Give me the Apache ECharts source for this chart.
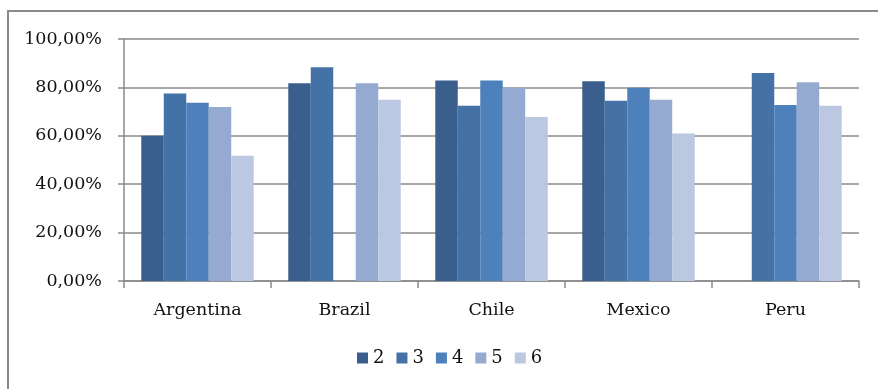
<!DOCTYPE html>
<html>
<head>
<meta charset="utf-8">
<script src="https://cdn.jsdelivr.net/npm/echarts@6/dist/echarts.min.js"></script>
<style>
  html, body { margin: 0; padding: 0; background: #fff; }
  #chart { width: 878px; height: 389px; }
</style>
</head>
<body>
<div id="chart"></div>
<script>
// Countries on the category axis
const categories = ['Argentina', 'Brazil', 'Chile', 'Mexico', 'Peru'];

// Share per group (percent); null where a group has no value
const group2 = [60.0, 81.7, 82.9, 82.5, null];
const group3 = [77.5, 88.3, 72.4, 74.5, 86.0];
const group4 = [73.7, null, 82.9, 79.9, 72.7];
const group5 = [71.9, 81.7, 79.9, 74.9, 82.1];
const group6 = [51.8, 74.9, 67.8, 61.0, 72.4];

const seriesNames = ['2', '3', '4', '5', '6'];
const seriesValues = [group2, group3, group4, group5, group6];
const seriesColors = ['#3b5f8d', '#4472a6', '#4e80bc', '#95aad0', '#bcc8e1'];

// Y-axis ticks: 0 .. 100 in steps of 20
const yMin = 0, yMax = 100, yStep = 20;

const FONT = '"DejaVu Serif", "Liberation Serif", serif';
const GRAY = '#8a8a8a';
const TEXT = '#111';

const chart = echarts.init(document.getElementById('chart'), null, { renderer: 'canvas' });

chart.setOption({
  animation: false,
  backgroundColor: '#ffffff',
  graphic: [{
    type: 'rect',
    shape: { x: 8, y: 11, width: 900, height: 420 },
    style: { fill: 'none', stroke: GRAY, lineWidth: 2 },
    silent: true,
    z: -1
  }],
  grid: { left: 124, right: 19, top: 39, bottom: 108, containLabel: false },
  legend: {
    data: seriesNames,
    top: 344,
    left: 352,
    icon: 'rect',
    itemWidth: 11,
    itemHeight: 11,
    itemGap: 12,
    textStyle: { fontFamily: FONT, fontSize: 18, color: TEXT }
  },
  xAxis: {
    type: 'category',
    data: categories,
    axisLine: { show: true, lineStyle: { color: GRAY, width: 1.5 } },
    axisTick: { show: true, length: 7, alignWithLabel: false, lineStyle: { color: GRAY, width: 1.5 } },
    axisLabel: { fontFamily: FONT, fontSize: 17.5, color: TEXT, margin: 20 },
    splitLine: { show: false }
  },
  yAxis: {
    type: 'value',
    min: yMin,
    max: yMax,
    interval: yStep,
    axisLine: { show: true, lineStyle: { color: GRAY, width: 1.5 } },
    axisTick: { show: true, length: 6, lineStyle: { color: GRAY, width: 1.5 } },
    axisLabel: {
      fontFamily: FONT, fontSize: 17.5, color: TEXT, margin: 22,
      formatter: v => v.toFixed(0) + ',00%'
    },
    splitLine: { show: true, lineStyle: { color: GRAY, width: 1.5 } }
  },
  series: seriesNames.map((name, i) => ({
    name: name,
    type: 'bar',
    data: seriesValues[i],
    barGap: '0%',
    barCategoryGap: '23.5%',
    itemStyle: { color: seriesColors[i] }
  }))
});
</script>
</body>
</html>
